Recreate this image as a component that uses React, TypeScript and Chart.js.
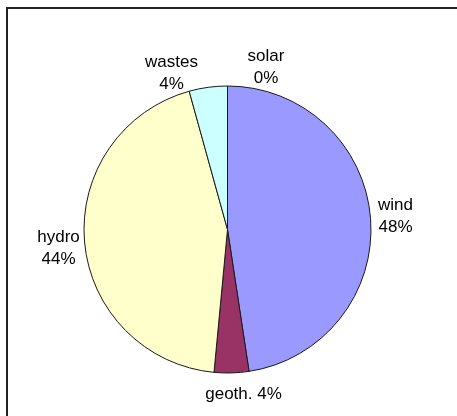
import React, { useEffect, useRef } from "react";
import { Chart, registerables } from "chart.js";

Chart.register(...registerables);

const categories = ["wind", "geoth.", "hydro", "wastes", "solar"];
const shares = [47.6, 3.9, 44.2, 4.3, 0];
const sliceColors = ["#9999FF", "#993366", "#FFFFCC", "#CCFFFF", "#FFFF99"];

// label block placement (offset from pie centre, in px) and whether single line
const labelLayout = [
  { dx: 168, dy: -13, oneLine: false },
  { dx: 16, dy: 164.5, oneLine: true },
  { dx: -169, dy: 18.5, oneLine: false },
  { dx: -56, dy: -156, oneLine: false },
  { dx: 38.5, dy: -162, oneLine: false },
];

const W = 457;
const H = 416;

const framePlugin = {
  id: "frame",
  beforeDraw(chart: any) {
    const ctx = chart.ctx;
    ctx.save();
    ctx.fillStyle = "#fff";
    ctx.fillRect(0, 0, W, H);
    ctx.fillStyle = "#222";
    ctx.fillRect(6, 7, 2, H - 7);
    ctx.fillRect(6, 7, W - 6, 2);
    ctx.restore();
  },
};

const labelPlugin = {
  id: "pieLabels",
  afterDraw(chart: any) {
    const ctx = chart.ctx;
    const meta = chart.getDatasetMeta(0);
    if (!meta.data.length) return;
    const cx = meta.data[0].x;
    const cy = meta.data[0].y;
    const total = shares.reduce((a, b) => a + b, 0);
    ctx.save();
    ctx.fillStyle = "#000";
    ctx.font = "17px 'Liberation Sans', Arial, sans-serif";
    ctx.textAlign = "center";
    ctx.textBaseline = "middle";
    categories.forEach((name, i) => {
      const pct = Math.round((shares[i] / total) * 100) + "%";
      const L = labelLayout[i];
      const x = cx + L.dx;
      const y = cy + L.dy;
      if (L.oneLine) {
        ctx.fillText(name + " " + pct, x, y);
      } else {
        ctx.fillText(name, x, y - 11);
        ctx.fillText(pct, x, y + 11);
      }
    });
    ctx.restore();
  },
};

export default function App() {
  const ref = useRef<HTMLCanvasElement | null>(null);
  useEffect(() => {
    if (!ref.current) return;
    const chart = new Chart(ref.current, {
      type: "pie",
      data: {
        labels: categories,
        datasets: [
          {
            data: shares,
            backgroundColor: sliceColors,
            borderColor: "#1a1a1a",
            borderWidth: 1,
          },
        ],
      },
      options: {
        responsive: false,
        animation: false,
        layout: { padding: { left: 83.5, right: 85.5, top: 85.5, bottom: 42.5 } },
        plugins: {
          legend: { display: false },
          tooltip: { enabled: false },
        },
      },
      plugins: [framePlugin, labelPlugin],
    });
    return () => chart.destroy();
  }, []);
  return (
    <div style={{ position: "fixed", left: 0, top: 0, width: W, height: H }}>
      <canvas ref={ref} width={W} height={H} style={{ display: "block" }} />
    </div>
  );
}
